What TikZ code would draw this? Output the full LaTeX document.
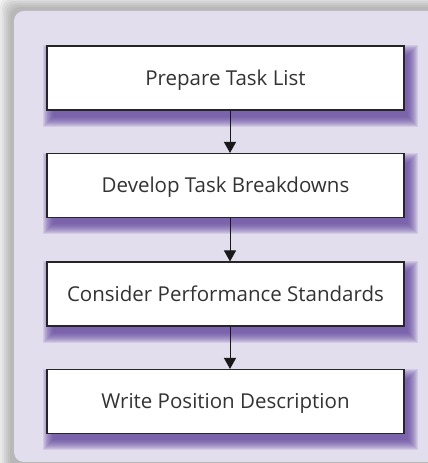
\documentclass[tikz,border=0pt]{standalone}
\usepackage{fontspec}
\setmainfont{Open Sans}
\usetikzlibrary{calc,arrows.meta,backgrounds,positioning}

\definecolor{panelbg}{RGB}{226,222,238}
\definecolor{boxshade}{RGB}{95,65,155}

\begin{document}
\begin{tikzpicture}[x=1pt,y=1pt,font=\fontsize{20.5}{24}\selectfont]

\tikzset{
stepbox/.style={draw=black!85,line width=1.1pt,fill=white,minimum width=357pt,minimum height=64pt,inner sep=0pt,text=black!80,text height=14.6pt,text depth=0pt},
flow/.style={-{Triangle[width=12pt,length=11pt]},line width=1pt,black!90},
panelshade/.style={fill=black,opacity=0.045,rounded corners=10pt},
boxglow/.style={fill=boxshade,opacity=0.12}
}

\useasboundingbox (0,0) rectangle (428,463);

% Nodes
\node (base) at (225.5,385) {};
\node[stepbox] (prep) at (base) {Prepare Task List};
\node[stepbox] (devel) at ($(base)+(0,-107.5)$) {Develop Task Breakdowns};
\node[stepbox] (perf) at ($(base)+(0,-216)$) {Consider Performance Standards};
\node[stepbox] (write) at ($(base)+(0,-323.5)$) {Write Position Description};

% Arrows
\draw[flow] ([xshift=4.5pt]prep.south) -- ([xshift=4.5pt]devel.north);
\draw[flow] ([xshift=4.5pt]devel.south) -- ([xshift=4.5pt]perf.north);
\draw[flow] ([xshift=4.5pt]perf.south) -- ([xshift=4.5pt]write.north);

% Panel and shadows
\begin{scope}[on background layer]
\fill[white] (0,0) rectangle (428,463);
\foreach \r in {12,10,...,0}
  \fill[panelshade] ($(10,-10)+(-\r,-\r)$) rectangle ($(450,456)+(\r,\r)$);
\fill[panelbg,rounded corners=10pt] (14,1) rectangle (450,452);
\foreach \n in {prep,devel,perf,write}
  \foreach \r in {8,7,...,-2}
    \fill[boxglow] ($(\n.south west)+(5-\r,-8-\r)$) rectangle ($(\n.north east)+(5+\r,-8+\r)$);
\end{scope}

\end{tikzpicture}
\end{document}
